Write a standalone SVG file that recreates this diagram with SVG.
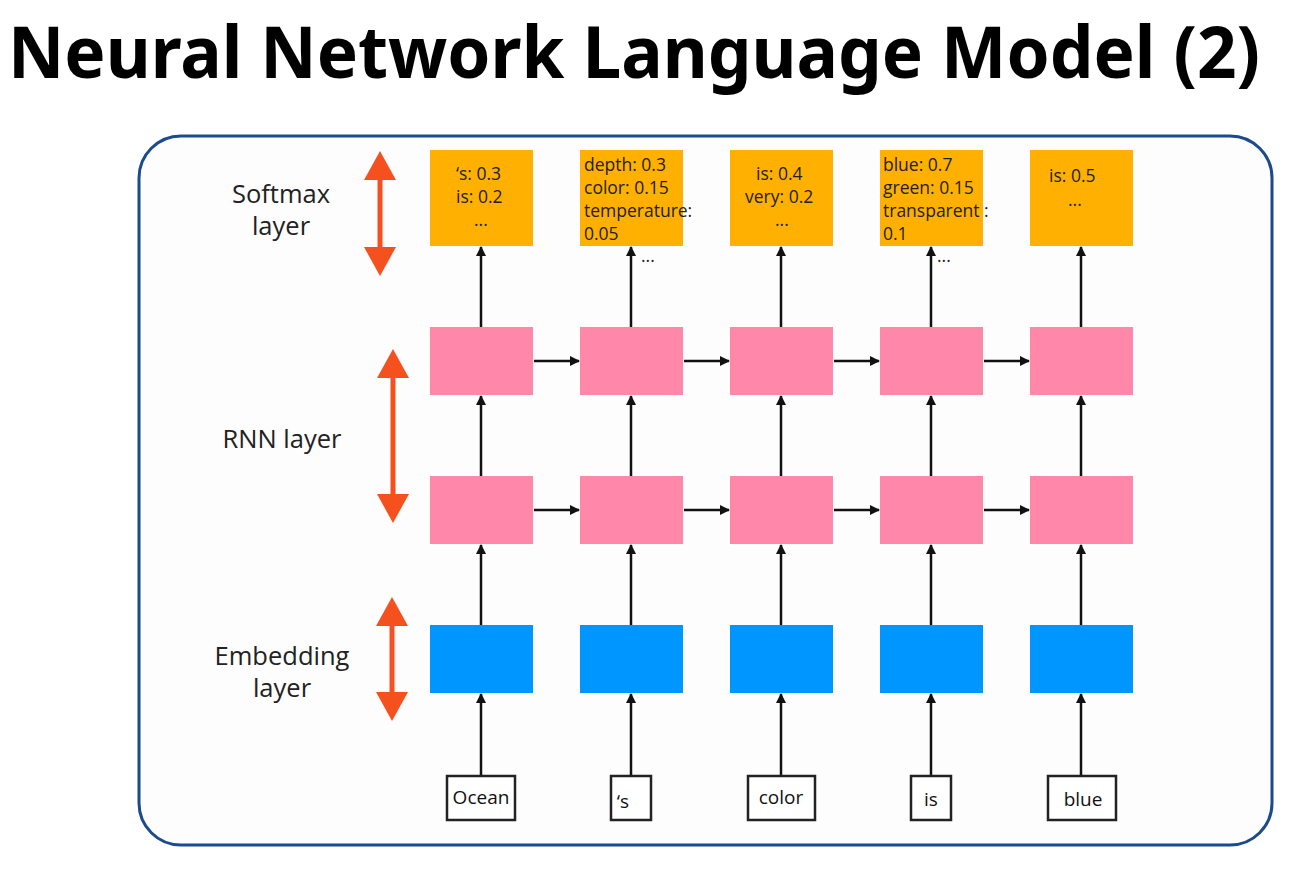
<svg xmlns="http://www.w3.org/2000/svg" width="1315" height="870" viewBox="0 0 1315 870">
  <defs>
    <marker id="ah" markerWidth="10" markerHeight="10" refX="9" refY="5" orient="auto" markerUnits="userSpaceOnUse">
      <path d="M0,0 L10,5 L0,10 Z" fill="#111"/>
    </marker>
    <style>
      .title { font-family: "Noto Sans", "Open Sans", sans-serif; font-weight: 700; font-size: 72px; fill: #000; }
      .lbl { font-family: "Open Sans", "Noto Sans", sans-serif; font-size: 25.5px; fill: #222; text-anchor: middle; }
      .prob { font-family: "Open Sans", "Noto Sans", sans-serif; font-size: 17.5px; fill: #222; }
      .word { font-family: "Open Sans", "Noto Sans", sans-serif; font-size: 19px; fill: #111; text-anchor: middle; }
      .soft { fill: #ffb000; }
      .rnn { fill: #ff88aa; }
      .emb { fill: #0096ff; }
      .wbox { fill: #fff; stroke: #222; stroke-width: 2.5; }
      .link { stroke: #111; stroke-width: 2.5; fill: none; marker-end: url(#ah); }
      .span { stroke: #f4511e; stroke-width: 5; fill: none; }
      .head { fill: #f4511e; }
    </style>
  </defs>

  <rect width="1315" height="870" fill="#fff"/>
  <text class="title" x="8" y="78" textLength="1252" lengthAdjust="spacingAndGlyphs">Neural Network Language Model (2)</text>

  <!-- frame -->
  <rect x="139" y="136" width="1133" height="709" rx="42" ry="42" fill="#fdfdfe" stroke="#1b4b8c" stroke-width="3"/>

  <!-- layer labels with span arrows -->
  <g id="label-softmax">
    <text class="lbl" x="281" y="203">Softmax</text>
    <text class="lbl" x="281" y="235">layer</text>
    <line class="span" x1="380" y1="172" x2="380" y2="256"/>
    <path class="head" d="M380,151 L396,180 L364,180 Z"/>
    <path class="head" d="M380,276 L396,247 L364,247 Z"/>
  </g>
  <g id="label-rnn">
    <text class="lbl" x="282" y="448">RNN layer</text>
    <line class="span" x1="393" y1="370" x2="393" y2="502"/>
    <path class="head" d="M393,349 L409,378 L377,378 Z"/>
    <path class="head" d="M393,523 L409,494 L377,494 Z"/>
  </g>
  <g id="label-embedding">
    <text class="lbl" x="282" y="665">Embedding</text>
    <text class="lbl" x="282" y="697">layer</text>
    <line class="span" x1="392" y1="618" x2="392" y2="700"/>
    <path class="head" d="M392,597 L408,626 L376,626 Z"/>
    <path class="head" d="M392,721 L408,692 L376,692 Z"/>
  </g>

  <!-- connectors -->
  <g id="connectors">
    <!-- word to embedding -->
    <line class="link" x1="481" y1="776" x2="481" y2="694"/>
    <line class="link" x1="631" y1="776" x2="631" y2="694"/>
    <line class="link" x1="781" y1="776" x2="781" y2="694"/>
    <line class="link" x1="931" y1="776" x2="931" y2="694"/>
    <line class="link" x1="1081" y1="776" x2="1081" y2="694"/>
    <!-- embedding to rnn 1 -->
    <line class="link" x1="481" y1="625" x2="481" y2="545"/>
    <line class="link" x1="631" y1="625" x2="631" y2="545"/>
    <line class="link" x1="781" y1="625" x2="781" y2="545"/>
    <line class="link" x1="931" y1="625" x2="931" y2="545"/>
    <line class="link" x1="1081" y1="625" x2="1081" y2="545"/>
    <!-- rnn 1 to rnn 2 -->
    <line class="link" x1="481" y1="476" x2="481" y2="396"/>
    <line class="link" x1="631" y1="476" x2="631" y2="396"/>
    <line class="link" x1="781" y1="476" x2="781" y2="396"/>
    <line class="link" x1="931" y1="476" x2="931" y2="396"/>
    <line class="link" x1="1081" y1="476" x2="1081" y2="396"/>
    <!-- rnn 2 to softmax -->
    <line class="link" x1="481" y1="327" x2="481" y2="247"/>
    <line class="link" x1="631" y1="327" x2="631" y2="247"/>
    <line class="link" x1="781" y1="327" x2="781" y2="247"/>
    <line class="link" x1="931" y1="327" x2="931" y2="247"/>
    <line class="link" x1="1081" y1="327" x2="1081" y2="247"/>
    <!-- recurrent, upper row -->
    <line class="link" x1="534" y1="361" x2="579" y2="361"/>
    <line class="link" x1="684" y1="361" x2="729" y2="361"/>
    <line class="link" x1="834" y1="361" x2="879" y2="361"/>
    <line class="link" x1="984" y1="361" x2="1029" y2="361"/>
    <!-- recurrent, lower row -->
    <line class="link" x1="534" y1="510" x2="579" y2="510"/>
    <line class="link" x1="684" y1="510" x2="729" y2="510"/>
    <line class="link" x1="834" y1="510" x2="879" y2="510"/>
    <line class="link" x1="984" y1="510" x2="1029" y2="510"/>
  </g>

  <!-- softmax outputs -->
  <g id="softmax-1">
    <rect class="soft" x="430" y="150" width="103" height="96"/>
    <text class="prob" x="456" y="180">‘s: 0.3</text>
    <text class="prob" x="456" y="203">is: 0.2</text>
    <text class="prob" x="474" y="226">...</text>
  </g>
  <g id="softmax-2">
    <rect class="soft" x="580" y="150" width="103" height="96"/>
    <text class="prob" x="584" y="171">depth: 0.3</text>
    <text class="prob" x="584" y="194">color: 0.15</text>
    <text class="prob" x="584" y="217">temperature:</text>
    <text class="prob" x="584" y="240">0.05</text>
    <text class="prob" x="641" y="262">...</text>
  </g>
  <g id="softmax-3">
    <rect class="soft" x="730" y="150" width="103" height="96"/>
    <text class="prob" x="756" y="180">is: 0.4</text>
    <text class="prob" x="745" y="203">very: 0.2</text>
    <text class="prob" x="775" y="226">...</text>
  </g>
  <g id="softmax-4">
    <rect class="soft" x="880" y="150" width="103" height="96"/>
    <text class="prob" x="883" y="171">blue: 0.7</text>
    <text class="prob" x="883" y="194">green: 0.15</text>
    <text class="prob" x="883" y="217">transparent :</text>
    <text class="prob" x="883" y="240">0.1</text>
    <text class="prob" x="937" y="262">...</text>
  </g>
  <g id="softmax-5">
    <rect class="soft" x="1030" y="150" width="103" height="96"/>
    <text class="prob" x="1049" y="182">is: 0.5</text>
    <text class="prob" x="1068" y="206">...</text>
  </g>

  <!-- rnn upper row -->
  <g id="rnn2-1"><rect class="rnn" x="430" y="327" width="103" height="68"/></g>
  <g id="rnn2-2"><rect class="rnn" x="580" y="327" width="103" height="68"/></g>
  <g id="rnn2-3"><rect class="rnn" x="730" y="327" width="103" height="68"/></g>
  <g id="rnn2-4"><rect class="rnn" x="880" y="327" width="103" height="68"/></g>
  <g id="rnn2-5"><rect class="rnn" x="1030" y="327" width="103" height="68"/></g>

  <!-- rnn lower row -->
  <g id="rnn1-1"><rect class="rnn" x="430" y="476" width="103" height="68"/></g>
  <g id="rnn1-2"><rect class="rnn" x="580" y="476" width="103" height="68"/></g>
  <g id="rnn1-3"><rect class="rnn" x="730" y="476" width="103" height="68"/></g>
  <g id="rnn1-4"><rect class="rnn" x="880" y="476" width="103" height="68"/></g>
  <g id="rnn1-5"><rect class="rnn" x="1030" y="476" width="103" height="68"/></g>

  <!-- embeddings -->
  <g id="emb-1"><rect class="emb" x="430" y="625" width="103" height="68"/></g>
  <g id="emb-2"><rect class="emb" x="580" y="625" width="103" height="68"/></g>
  <g id="emb-3"><rect class="emb" x="730" y="625" width="103" height="68"/></g>
  <g id="emb-4"><rect class="emb" x="880" y="625" width="103" height="68"/></g>
  <g id="emb-5"><rect class="emb" x="1030" y="625" width="103" height="68"/></g>

  <!-- input words -->
  <g id="word-ocean">
    <rect class="wbox" x="447" y="776" width="68" height="44"/>
    <text class="word" x="481" y="804">Ocean</text>
  </g>
  <g id="word-s">
    <rect class="wbox" x="611" y="776" width="40" height="44"/>
    <text class="word" x="623" y="808">‘s</text>
  </g>
  <g id="word-color">
    <rect class="wbox" x="748" y="776" width="67" height="44"/>
    <text class="word" x="781" y="804">color</text>
  </g>
  <g id="word-is">
    <rect class="wbox" x="911" y="776" width="40" height="44"/>
    <text class="word" x="931" y="806">is</text>
  </g>
  <g id="word-blue">
    <rect class="wbox" x="1048" y="776" width="68" height="44"/>
    <text class="word" x="1083" y="806">blue</text>
  </g>
</svg>
